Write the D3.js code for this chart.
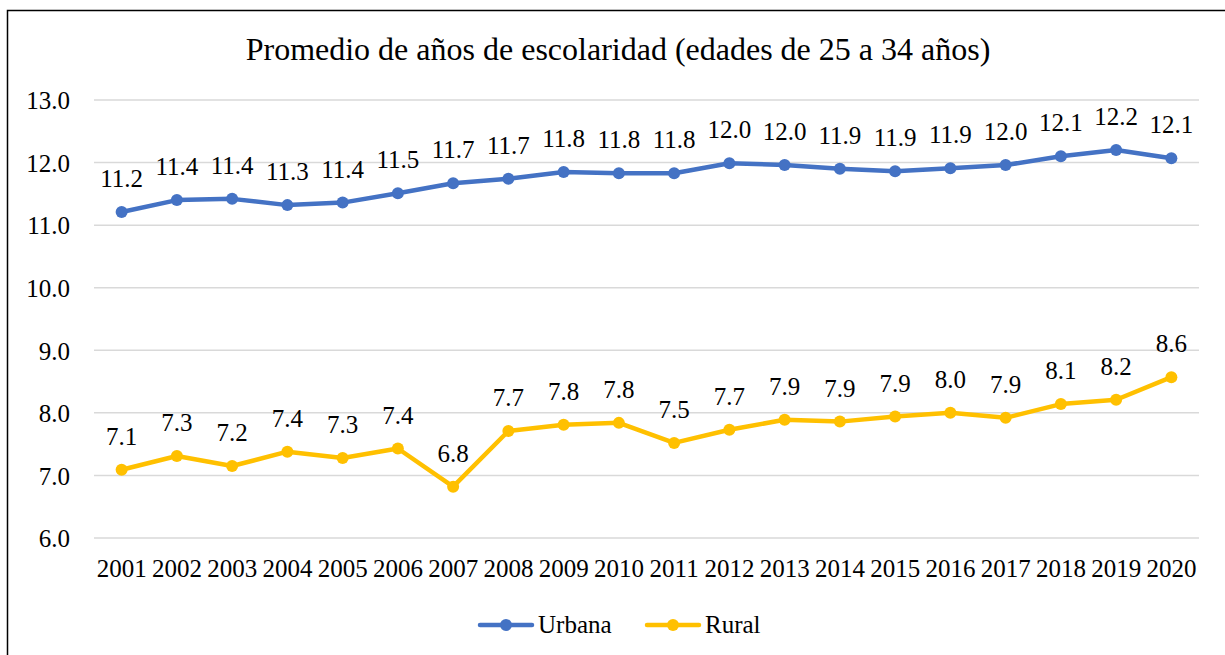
<!DOCTYPE html>
<html>
<head>
<meta charset="utf-8">
<script src="https://d3js.org/d3.v7.min.js"></script>
<style>
  body { margin: 0; background: #fff; }
  svg text { font-family: "Times New Roman", "Liberation Serif", Tinos, "DejaVu Serif", serif !important; fill: #000; }
</style>
</head>
<body>
<svg id="chart"></svg>
<script>
var years = ["2001","2002","2003","2004","2005","2006","2007","2008","2009","2010",
             "2011","2012","2013","2014","2015","2016","2017","2018","2019","2020"];
var urbana = [11.21, 11.40, 11.42, 11.32, 11.36, 11.51, 11.67, 11.74, 11.85, 11.83,
              11.83, 11.99, 11.96, 11.90, 11.86, 11.91, 11.96, 12.10, 12.20, 12.07];
var rural = [7.09, 7.31, 7.15, 7.38, 7.28, 7.43, 6.82, 7.71, 7.81, 7.84,
             7.52, 7.73, 7.89, 7.86, 7.94, 8.00, 7.92, 8.14, 8.21, 8.57];
var yTicks = [6, 7, 8, 9, 10, 11, 12, 13];
var seriesNames = ["Urbana", "Rural"];
var seriesColors = ["#4472C4", "#FFC000"];
var title = "Promedio de años de escolaridad (edades de 25 a 34 años)";

var width = 1225, height = 655;
var margin = {top: 100, left: 94, right: 26, bottom: 117};

var svg = d3.select("#chart")
    .attr("width", width)
    .attr("height", height);

svg.append("rect")
    .attr("x", 0).attr("y", 0)
    .attr("width", width).attr("height", height)
    .attr("fill", "#fff");

// outer frame (right and bottom edges fall outside the picture)
svg.append("rect")
    .attr("x", 7.5).attr("y", 10.5)
    .attr("width", 1240).attr("height", 700)
    .attr("fill", "none")
    .attr("stroke", "#000")
    .attr("stroke-width", 1.5);

var xScale = d3.scaleBand()
    .domain(years)
    .range([margin.left, width - margin.right]);

var yScale = d3.scaleLinear()
    .domain([6, 13])
    .range([height - margin.bottom, margin.top]);

// gridlines
svg.append("g")
    .selectAll("line")
    .data(yTicks)
    .enter().append("line")
    .attr("x1", margin.left)
    .attr("x2", width - margin.right)
    .attr("y1", function (d) { return yScale(d); })
    .attr("y2", function (d) { return yScale(d); })
    .attr("stroke", "#d9d9d9")
    .attr("stroke-width", 1.5);

// y axis
var yAxis = svg.append("g")
    .attr("transform", "translate(" + (margin.left - 24) + ",0)")
    .call(d3.axisLeft(yScale).tickValues(yTicks).tickFormat(d3.format(".1f")).tickSize(0));
yAxis.select(".domain").remove();
yAxis.selectAll("text")
    .attr("x", 0)
    .attr("dy", "0.35em")
    .style("font-size", "25px")
    .attr("fill", "#000");

// x axis
var xAxis = svg.append("g")
    .attr("transform", "translate(0," + (height - margin.bottom) + ")")
    .call(d3.axisBottom(xScale).tickSize(0));
xAxis.select(".domain").remove();
xAxis.selectAll("text")
    .attr("y", 39)
    .attr("dy", 0)
    .style("font-size", "25px")
    .attr("fill", "#000");

// title
svg.append("text")
    .attr("x", 618)
    .attr("y", 60)
    .attr("text-anchor", "middle")
    .style("font-size", "32px")
    .text(title);

var line = d3.line()
    .x(function (d, i) { return xScale(years[i]) + xScale.bandwidth() / 2; })
    .y(function (d) { return yScale(d); });

[urbana, rural].forEach(function (values, s) {
    var g = svg.append("g");
    g.append("path")
        .datum(values)
        .attr("d", line)
        .attr("fill", "none")
        .attr("stroke", seriesColors[s])
        .attr("stroke-width", 4.5)
        .attr("stroke-linejoin", "round");
    g.selectAll("circle")
        .data(values)
        .enter().append("circle")
        .attr("cx", function (d, i) { return xScale(years[i]) + xScale.bandwidth() / 2; })
        .attr("cy", function (d) { return yScale(d); })
        .attr("r", 6)
        .attr("fill", seriesColors[s]);
    g.selectAll("text")
        .data(values)
        .enter().append("text")
        .attr("x", function (d, i) { return xScale(years[i]) + xScale.bandwidth() / 2; })
        .attr("y", function (d) { return yScale(d) - 25; })
        .attr("text-anchor", "middle")
        .style("font-size", "25px")
        .text(function (d) { return d.toFixed(1); });
});

// legend
var legendX = [478, 645];
seriesNames.forEach(function (name, s) {
    var lg = svg.append("g").attr("transform", "translate(" + legendX[s] + ",625)");
    lg.append("line")
        .attr("x1", 2).attr("x2", 54)
        .attr("y1", 0).attr("y2", 0)
        .attr("stroke", seriesColors[s])
        .attr("stroke-width", 4.5)
        .attr("stroke-linecap", "round");
    lg.append("circle")
        .attr("cx", 28).attr("cy", 0)
        .attr("r", 6)
        .attr("fill", seriesColors[s]);
    lg.append("text")
        .attr("x", 60)
        .attr("y", 8)
        .style("font-size", "25px")
        .text(name);
});
</script>
</body>
</html>
